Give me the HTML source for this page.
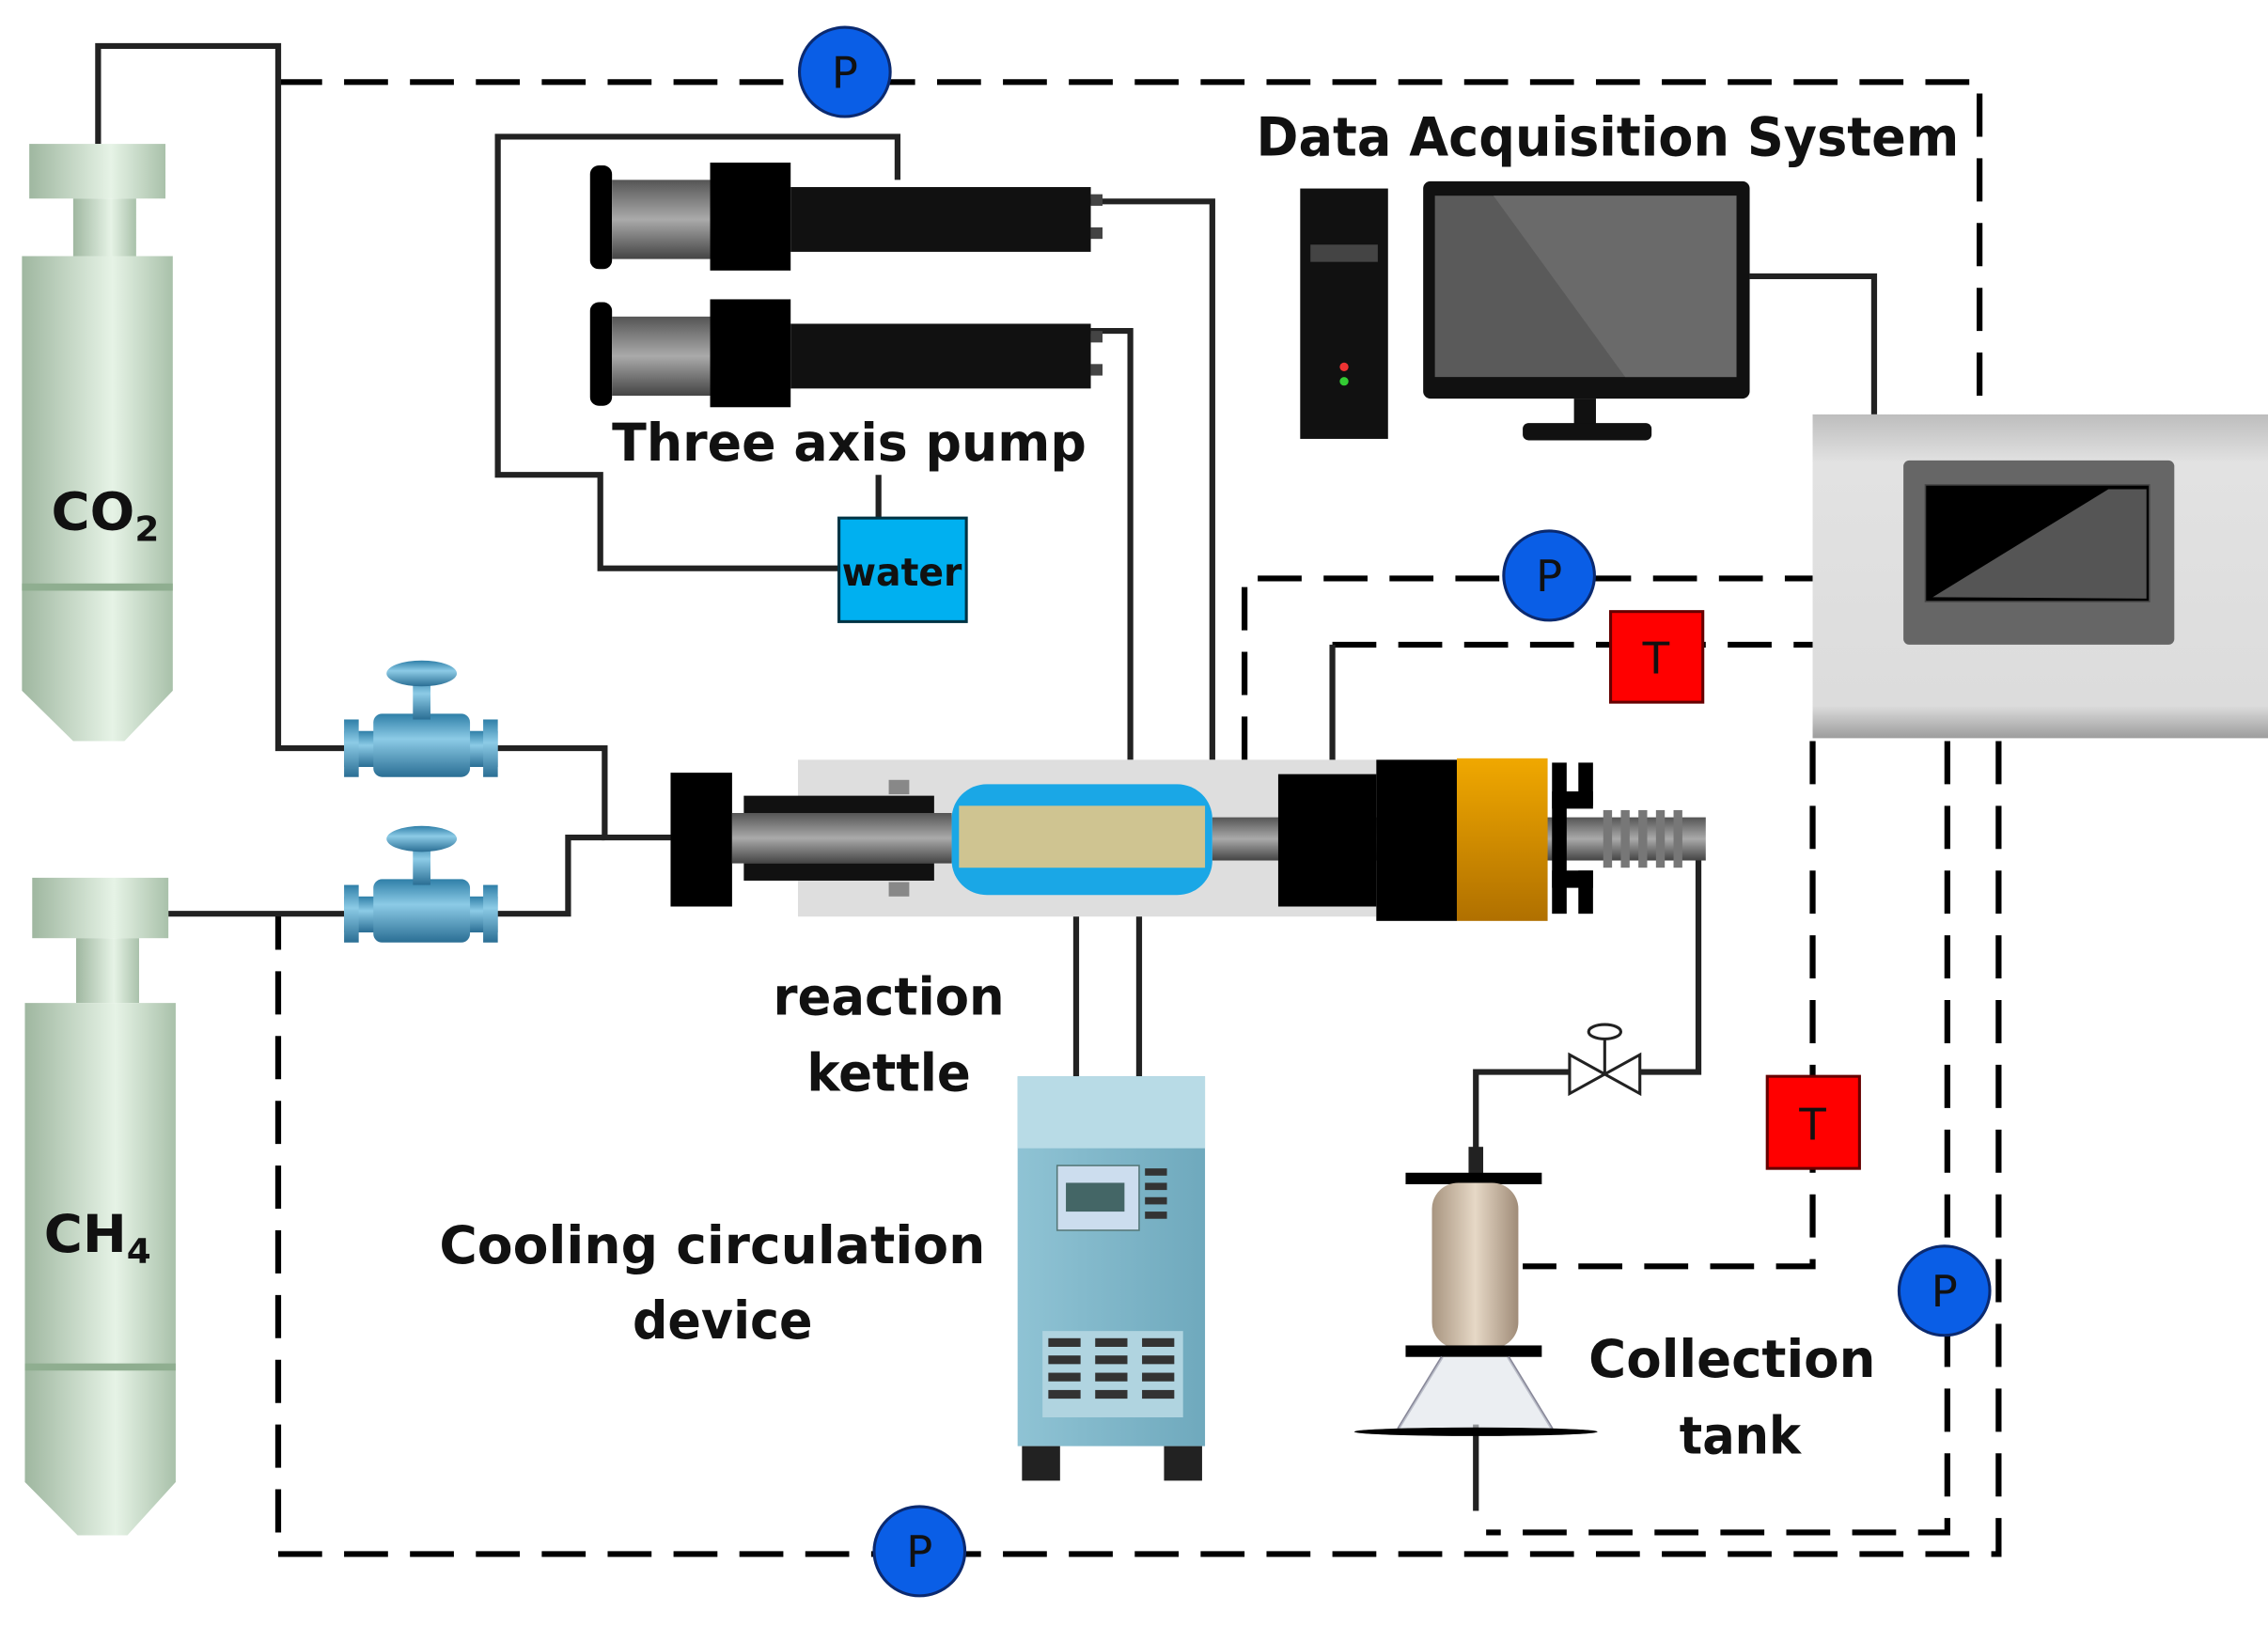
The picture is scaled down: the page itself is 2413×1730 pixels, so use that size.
<!DOCTYPE html>
<html><head><meta charset="utf-8"><style>
html,body{margin:0;padding:0;background:#fff;overflow:hidden}
svg{display:block}
text{font-family:"DejaVu Sans","Liberation Sans",sans-serif;font-weight:bold;fill:#111}
</style></head><body>
<svg width="2413" height="1730" viewBox="0 0 1549 1130" preserveAspectRatio="none" xmlns="http://www.w3.org/2000/svg">
<defs>
<linearGradient id="cyl" x1="0" x2="1" y1="0" y2="0"><stop offset="0" stop-color="#9fb7a0"/><stop offset="0.6" stop-color="#e6f3e6"/><stop offset="1" stop-color="#a9c1aa"/></linearGradient>
<linearGradient id="gbox" x1="0" x2="0" y1="0" y2="1"><stop offset="0" stop-color="#bdbdbd"/><stop offset="0.15" stop-color="#e2e2e2"/><stop offset="0.9" stop-color="#dcdcdc"/><stop offset="1" stop-color="#9c9c9c"/></linearGradient>
<linearGradient id="pipe" x1="0" x2="0" y1="0" y2="1"><stop offset="0" stop-color="#2f7fa8"/><stop offset="0.4" stop-color="#8ccbe6"/><stop offset="1" stop-color="#2a6e94"/></linearGradient>
<linearGradient id="rod" x1="0" x2="0" y1="0" y2="1"><stop offset="0" stop-color="#555"/><stop offset="0.5" stop-color="#aaa"/><stop offset="1" stop-color="#444"/></linearGradient>
<linearGradient id="cool" x1="0" x2="1"><stop offset="0" stop-color="#8fc3d4"/><stop offset="1" stop-color="#6fa9bd"/></linearGradient>
<linearGradient id="tan" x1="0" x2="1"><stop offset="0" stop-color="#a89580"/><stop offset="0.5" stop-color="#e6d8c6"/><stop offset="1" stop-color="#a08c78"/></linearGradient>
<linearGradient id="org" x1="0" x2="0" y1="0" y2="1"><stop offset="0" stop-color="#f0a800"/><stop offset="1" stop-color="#b07000"/></linearGradient>
</defs>
<g fill="none" stroke="#000" stroke-width="4" stroke-dasharray="30 15">
<polyline points="190,57 1352,57 1352,288"/>
<polyline points="850,528 850,402 1238,402"/>
<polyline points="910,448 1238,448"/>
<polyline points="1238,515 1238,880 1040,880"/>
<polyline points="1330,515 1330,1065 1015,1065"/>
<polyline points="1365,515 1365,1080 190,1080 190,635"/>
</g>
<g fill="none" stroke="#222" stroke-width="4">
<polyline points="67,100 67,32 190,32 190,520 240,520"/>
<polyline points="335,520 413,520 413,582 460,582"/>
<polyline points="115,635 240,635"/>
<polyline points="335,635 388,635 388,582 413,582"/>
<polyline points="613,125 613,95 340,95 340,330 410,330 410,395 575,395"/>
<polyline points="600,330 600,360"/>
<polyline points="745,140 828,140 828,528"/>
<polyline points="745,230 772,230 772,528"/>
<polyline points="735,635 735,748"/><polyline points="778,635 778,748"/>
<polyline points="1160,590 1160,745 1120,745"/>
<polyline points="1072,745 1008,745 1008,800"/>
<polyline points="910,530 910,448"/>
<polyline points="1195,192 1280,192 1280,288"/>
<polyline points="1008,990 1008,1050"/>
</g>
<g fill="url(#cyl)">
<rect x="20" y="100" width="93" height="38"/><rect x="50" y="138" width="43" height="42"/>
<path d="M15,178H118V480L85,515H50L15,480Z"/>
<rect x="22" y="610" width="93" height="42"/><rect x="52" y="652" width="43" height="45"/>
<path d="M17,697H120V1030L87,1067H53L17,1030Z"/>
</g>
<line x1="15" y1="408" x2="118" y2="408" stroke="#8fae90" stroke-width="5"/>
<line x1="17" y1="950" x2="120" y2="950" stroke="#8fae90" stroke-width="5"/>
<text x="35" y="368" font-size="36">CO<tspan font-size="24" dy="8">2</tspan></text>
<text x="30" y="870" font-size="36">CH<tspan font-size="24" dy="8">4</tspan></text>
<g fill="url(#pipe)">
<rect x="235" y="508" width="105" height="25"/><rect x="235" y="500" width="10" height="40"/><rect x="330" y="500" width="10" height="40"/><rect x="255" y="496" width="66" height="44" rx="6"/><rect x="282" y="470" width="12" height="30"/><ellipse cx="288" cy="468" rx="24" ry="9"/>
<rect x="235" y="623" width="105" height="25"/><rect x="235" y="615" width="10" height="40"/><rect x="330" y="615" width="10" height="40"/><rect x="255" y="611" width="66" height="44" rx="6"/><rect x="282" y="585" width="12" height="30"/><ellipse cx="288" cy="583" rx="24" ry="9"/>
</g>
<g>
<rect x="403" y="115" width="15" height="72" rx="6" fill="#000"/><rect x="418" y="125" width="67" height="55" fill="url(#rod)"/><rect x="485" y="113" width="55" height="75" fill="#000"/><rect x="540" y="130" width="205" height="45" fill="#111"/><rect x="745" y="135" width="8" height="8" fill="#444"/><rect x="745" y="158" width="8" height="8" fill="#444"/>
<rect x="403" y="210" width="15" height="72" rx="6" fill="#000"/><rect x="418" y="220" width="67" height="55" fill="url(#rod)"/><rect x="485" y="208" width="55" height="75" fill="#000"/><rect x="540" y="225" width="205" height="45" fill="#111"/><rect x="745" y="230" width="8" height="8" fill="#444"/><rect x="745" y="253" width="8" height="8" fill="#444"/>
</g>
<text x="418" y="320" font-size="36" textLength="324" lengthAdjust="spacingAndGlyphs">Three axis pump</text>
<rect x="573" y="360" width="87" height="72" fill="#00b0f0" stroke="#034" stroke-width="2"/>
<text x="575" y="407" font-size="27" textLength="82" lengthAdjust="spacingAndGlyphs">water</text>
<rect x="888" y="131" width="60" height="174" fill="#111"/><rect x="895" y="170" width="46" height="12" fill="#444"/><circle cx="918" cy="255" r="3" fill="#e33"/><circle cx="918" cy="265" r="3" fill="#3c3"/>
<rect x="972" y="126" width="223" height="151" rx="5" fill="#111"/><rect x="980" y="136" width="206" height="126" fill="#5a5a5a"/><path d="M1020,136H1186V262H1110Z" fill="#6a6a6a"/>
<rect x="1075" y="277" width="15" height="18" fill="#111"/><rect x="1040" y="294" width="88" height="12" rx="4" fill="#111"/>
<text x="858" y="108" font-size="37" textLength="480" lengthAdjust="spacingAndGlyphs">Data Acquisition System</text>
<rect x="1238" y="288" width="311" height="225" fill="url(#gbox)"/>
<rect x="1300" y="320" width="185" height="128" rx="4" fill="#666"/>
<rect x="1315" y="337" width="153" height="81" fill="#000" stroke="#444"/><path d="M1320,415L1440,340H1466V416Z" fill="#555"/>
<rect x="545" y="528" width="395" height="109" fill="#dedede"/>
<rect x="458" y="537" width="42" height="93" fill="#000"/>
<rect x="500" y="565" width="150" height="35" fill="url(#rod)"/>
<rect x="508" y="553" width="130" height="12" fill="#111"/><rect x="508" y="600" width="130" height="12" fill="#111"/>
<rect x="607" y="542" width="14" height="10" fill="#888"/><rect x="607" y="613" width="14" height="10" fill="#888"/>
<rect x="650" y="545" width="178" height="77" rx="24" fill="#1aa7e6"/>
<rect x="655" y="560" width="168" height="43" fill="#d8cfa0"/>
<rect x="655" y="560" width="168" height="43" fill="#c4b57a" opacity="0.4"/>
<rect x="828" y="568" width="337" height="30" fill="url(#rod)"/>
<rect x="873" y="538" width="67" height="92" fill="#000"/><rect x="940" y="528" width="55" height="112" fill="#000"/>
<rect x="995" y="527" width="62" height="113" fill="url(#org)"/>
<rect x="1060" y="530" width="10" height="105" fill="#000"/><rect x="1060" y="550" width="28" height="12" fill="#000"/><rect x="1060" y="605" width="28" height="12" fill="#000"/><rect x="1078" y="530" width="10" height="30" fill="#000"/><rect x="1078" y="605" width="10" height="30" fill="#000"/>
<g fill="#777"><rect x="1095" y="563" width="6" height="40"/><rect x="1107" y="563" width="6" height="40"/><rect x="1119" y="563" width="6" height="40"/><rect x="1131" y="563" width="6" height="40"/><rect x="1143" y="563" width="6" height="40"/></g>
<text x="528" y="705" font-size="36" textLength="158" lengthAdjust="spacingAndGlyphs">reaction</text>
<text x="551" y="758" font-size="36" textLength="112" lengthAdjust="spacingAndGlyphs">kettle</text>
<rect x="695" y="748" width="128" height="257" fill="url(#cool)"/><rect x="695" y="748" width="128" height="50" fill="#b8dbe6"/>
<rect x="722" y="810" width="56" height="45" fill="#cde" stroke="#577"/><rect x="728" y="822" width="40" height="20" fill="#466"/>
<g fill="#333"><rect x="782" y="812" width="15" height="5"/><rect x="782" y="822" width="15" height="5"/><rect x="782" y="832" width="15" height="5"/><rect x="782" y="842" width="15" height="5"/></g>
<rect x="712" y="925" width="96" height="60" fill="#b0d4e0"/>
<g fill="#333"><rect x="716" y="930" width="22" height="6"/><rect x="748" y="930" width="22" height="6"/><rect x="780" y="930" width="22" height="6"/><rect x="716" y="942" width="22" height="6"/><rect x="748" y="942" width="22" height="6"/><rect x="780" y="942" width="22" height="6"/><rect x="716" y="954" width="22" height="6"/><rect x="748" y="954" width="22" height="6"/><rect x="780" y="954" width="22" height="6"/><rect x="716" y="966" width="22" height="6"/><rect x="748" y="966" width="22" height="6"/><rect x="780" y="966" width="22" height="6"/></g>
<rect x="698" y="1005" width="26" height="24" fill="#222"/><rect x="795" y="1005" width="26" height="24" fill="#222"/>
<text x="300" y="878" font-size="36" textLength="373" lengthAdjust="spacingAndGlyphs">Cooling circulation</text>
<text x="432" y="930" font-size="36" textLength="123" lengthAdjust="spacingAndGlyphs">device</text>
<path d="M1072,733L1120,760V733L1072,760Z" fill="#fff" stroke="#222" stroke-width="2"/>
<line x1="1096" y1="746" x2="1096" y2="720" stroke="#222" stroke-width="2"/><ellipse cx="1096" cy="717" rx="11" ry="5" fill="#fff" stroke="#222" stroke-width="2"/>
<rect x="1003" y="797" width="10" height="20" fill="#222"/>
<rect x="960" y="815" width="93" height="8" fill="#000"/>
<rect x="978" y="822" width="59" height="115" rx="18" fill="url(#tan)"/>
<rect x="960" y="935" width="93" height="8" fill="#000"/>
<path d="M985,943L955,993M1030,943L1060,993" stroke="#889" stroke-width="2"/>
<path d="M985,943H1030L1060,993H955Z" fill="#dde3ea" opacity="0.6"/>
<ellipse cx="1008" cy="995" rx="83" ry="3" fill="#000"/>
<text x="1085" y="957" font-size="36" textLength="196" lengthAdjust="spacingAndGlyphs">Collection</text>
<text x="1147" y="1010" font-size="36" textLength="83" lengthAdjust="spacingAndGlyphs">tank</text>
<g fill="#0a5ee6" stroke="#0b2a70" stroke-width="2">
<circle cx="577" cy="50" r="31"/><circle cx="1058" cy="400" r="31"/><circle cx="1328" cy="897" r="31"/><circle cx="628" cy="1078" r="31"/>
</g>
<g font-size="30" text-anchor="middle">
<text x="577" y="61" style="font-weight:normal">P</text><text x="1058" y="411" style="font-weight:normal">P</text><text x="1328" y="908" style="font-weight:normal">P</text><text x="628" y="1089" style="font-weight:normal">P</text>
</g>
<rect x="1100" y="425" width="63" height="63" fill="#f00" stroke="#600" stroke-width="2"/>
<rect x="1207" y="748" width="63" height="64" fill="#f00" stroke="#600" stroke-width="2"/>
<text x="1131" y="468" font-size="30" text-anchor="middle" style="font-weight:normal">T</text>
<text x="1238" y="792" font-size="30" text-anchor="middle" style="font-weight:normal">T</text>
</svg>
</body></html>
